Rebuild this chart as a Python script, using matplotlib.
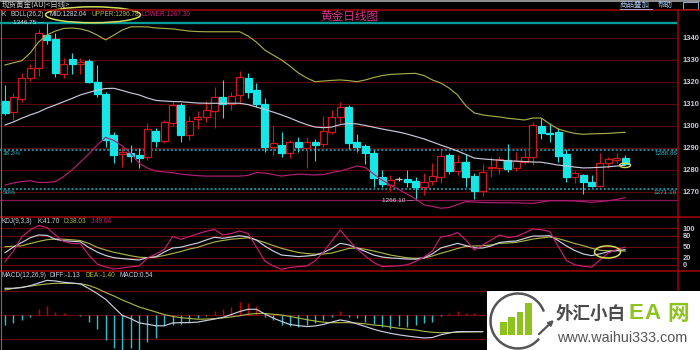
import matplotlib
matplotlib.use('Agg')
import matplotlib.pyplot as plt
from matplotlib.patches import Rectangle, Ellipse, Arc, FancyArrowPatch

plt.rcParams['font.family'] = ['Noto Sans CJK SC', 'DejaVu Sans']

# ---------------- data ----------------
opens = [1311.2, 1306.4, 1312.0, 1321.5, 1326.4, 1341.2, 1339.3, 1323.4, 1330.2, 1327.9,
         1329.4, 1320.0, 1314.3, 1295.8, 1287.0, 1287.7, 1286.7, 1285.6, 1297.7, 1293.2,
         1301.1, 1309.3, 1295.8, 1302.9, 1303.8, 1306.7, 1312.9, 1309.7, 1314.0, 1321.8,
         1316.2, 1309.7, 1290.2, 1291.2, 1287.5, 1292.5, 1289.7, 1292.5, 1291.5, 1297.3,
         1304.1, 1308.4, 1292.5, 1290.8, 1287.7, 1276.8, 1273.0, 1275.6, 1275.6, 1275.0,
         1272.3, 1275.0, 1276.8, 1286.7, 1279.5, 1283.4, 1277.1, 1270.5, 1280.6, 1280.9,
         1284.4, 1280.6, 1283.6, 1285.6, 1299.9, 1296.8, 1297.1, 1287.0, 1276.8, 1277.6,
         1274.5, 1272.7, 1283.2, 1284.4, 1285.2]
highs = [1318.5, 1314.7, 1324.1, 1328.0, 1344.0, 1346.75, 1342.0, 1330.6, 1332.9, 1330.6,
         1330.2, 1327.6, 1315.5, 1297.3, 1290.5, 1291.2, 1289.7, 1301.1, 1298.8, 1302.6,
         1311.2, 1310.2, 1304.4, 1306.8, 1311.2, 1317.5, 1320.8, 1315.5, 1325.0, 1323.8,
         1319.5, 1312.5, 1299.9, 1297.3, 1293.5, 1294.7, 1294.7, 1293.8, 1304.4, 1307.1,
         1310.9, 1309.4, 1296.1, 1291.7, 1289.0, 1279.9, 1277.6, 1276.5, 1279.9, 1276.5,
         1278.6, 1282.9, 1289.0, 1287.5, 1286.7, 1287.1, 1278.4, 1282.6, 1286.0, 1286.2,
         1291.7, 1288.2, 1289.7, 1301.8, 1303.4, 1301.1, 1298.8, 1289.3, 1279.4, 1278.0,
         1277.6, 1287.5, 1286.0, 1287.5, 1286.7]
lows = [1304.9, 1302.6, 1310.9, 1320.5, 1322.6, 1337.0, 1322.3, 1321.5, 1323.4, 1323.4,
        1319.3, 1313.2, 1290.5, 1282.9, 1281.4, 1283.6, 1280.9, 1284.4, 1290.2, 1292.0,
        1299.9, 1292.7, 1293.5, 1298.4, 1301.8, 1298.8, 1303.4, 1307.1, 1311.0, 1312.5,
        1308.6, 1288.2, 1286.7, 1285.6, 1285.2, 1288.2, 1280.6, 1284.1, 1290.5, 1296.1,
        1301.1, 1289.3, 1288.2, 1282.6, 1272.3, 1272.3, 1270.5, 1274.8, 1272.3, 1266.1,
        1268.5, 1273.0, 1273.8, 1277.9, 1277.6, 1272.3, 1266.5, 1268.2, 1276.8, 1277.9,
        1279.1, 1279.4, 1282.6, 1282.1, 1293.8, 1292.7, 1283.6, 1274.5, 1273.8, 1269.0,
        1272.0, 1272.0, 1280.6, 1283.2, 1282.6]
closes = [1305.9, 1312.9, 1321.5, 1326.4, 1342.0, 1339.0, 1323.8, 1328.0, 1328.0, 1329.1,
          1320.0, 1314.3, 1293.5, 1286.7, 1288.2, 1286.4, 1285.5, 1298.4, 1293.2, 1301.5,
          1309.3, 1295.8, 1302.1, 1303.8, 1307.1, 1312.9, 1309.7, 1313.5, 1322.3, 1315.5,
          1309.7, 1290.2, 1292.0, 1287.5, 1292.5, 1290.2, 1292.5, 1291.2, 1297.6, 1304.1,
          1308.4, 1292.3, 1290.2, 1287.7, 1276.1, 1273.5, 1275.3, 1275.6, 1274.5, 1272.3,
          1274.5, 1277.1, 1286.2, 1279.5, 1283.6, 1276.5, 1270.5, 1279.1, 1281.4, 1284.7,
          1280.3, 1284.1, 1285.6, 1300.3, 1296.8, 1296.2, 1286.4, 1276.8, 1278.4, 1274.5,
          1272.7, 1283.2, 1284.9, 1285.2, 1282.6]
boll_upper = [1327.6, 1328.6, 1329.5, 1333.0, 1338.0, 1341.2, 1343.0, 1344.2, 1344.4, 1344.0,
              1343.0, 1341.2, 1339.0, 1341.2, 1343.5, 1344.9, 1345.0, 1344.9, 1344.4, 1344.2,
              1344.0, 1343.5, 1343.0, 1342.8, 1342.7, 1342.7, 1342.7, 1342.7, 1342.7, 1340.8,
              1338.0, 1334.4, 1332.1, 1329.9, 1327.1, 1324.0, 1321.7, 1320.0, 1320.3, 1320.6,
              1320.8, 1320.5, 1320.0, 1320.8, 1321.9, 1322.8, 1323.3, 1323.5, 1323.7, 1323.8,
              1322.8, 1320.8, 1319.4, 1317.1, 1314.0, 1309.0, 1305.8, 1304.9, 1304.4, 1304.0,
              1303.4, 1303.0, 1302.6, 1303.5, 1303.5, 1300.8, 1298.5, 1297.4, 1296.5, 1296.1,
              1296.3, 1296.4, 1296.5, 1296.8, 1297.0]
boll_mid = [1300.3, 1301.7, 1303.4, 1304.9, 1306.2, 1308.0, 1309.4, 1310.9, 1312.4, 1314.0,
            1315.1, 1316.2, 1316.9, 1317.0, 1316.0, 1314.9, 1314.0, 1312.6, 1311.5, 1311.2,
            1311.0, 1310.9, 1310.6, 1310.3, 1310.2, 1310.2, 1310.2, 1310.2, 1310.2, 1309.6,
            1308.5, 1307.4, 1306.2, 1304.9, 1303.5, 1301.9, 1300.5, 1299.4, 1299.1, 1299.4,
            1300.5, 1301.0, 1300.8, 1300.1, 1299.3, 1298.5, 1297.8, 1297.1, 1296.2, 1295.1,
            1294.0, 1292.6, 1291.2, 1289.9, 1288.5, 1286.9, 1285.3, 1284.9, 1284.6, 1284.3,
            1284.0, 1283.9, 1283.7, 1283.5, 1283.4, 1282.8, 1282.1, 1281.7, 1281.2, 1280.8,
            1280.9, 1281.1, 1281.3, 1281.7, 1282.0]
boll_lower = [1273.0, 1274.0, 1274.6, 1275.0, 1274.2, 1274.2, 1274.6, 1276.9, 1279.9, 1283.5,
              1287.1, 1291.2, 1294.7, 1293.3, 1290.8, 1287.4, 1283.0, 1280.7, 1279.4, 1279.0,
              1278.6, 1278.0, 1277.6, 1277.3, 1277.1, 1277.1, 1277.1, 1277.1, 1277.1, 1277.4,
              1278.7, 1278.5, 1277.8, 1277.1, 1277.6, 1278.0, 1277.8, 1277.6, 1277.8, 1278.7,
              1279.4, 1280.5, 1281.7, 1281.0, 1278.0, 1275.3, 1273.0, 1271.0, 1268.9, 1266.7,
              1264.0, 1263.3, 1262.5, 1262.8, 1264.2, 1265.5, 1265.3, 1265.1, 1265.0, 1265.0,
              1265.0, 1264.9, 1264.8, 1264.7, 1265.3, 1265.9, 1265.9, 1265.9, 1265.8, 1265.5,
              1265.2, 1265.5, 1265.9, 1266.5, 1267.3]
kdj_k = [33.5, 49.0, 61.3, 74.1, 81.7, 80.9, 70.0, 66.2, 64.6, 63.2,
         47.7, 35.4, 25.9, 19.9, 17.4, 15.5, 13.6, 20.2, 22.3, 35.4,
         46.3, 48.5, 54.5, 59.9, 68.1, 75.5, 72.8, 76.3, 79.8, 76.3,
         68.1, 51.8, 38.1, 27.2, 25.1, 22.9, 24.5, 26.7, 34.1, 45.0,
         59.1, 55.0, 46.3, 36.8, 27.2, 21.8, 19.1, 17.7, 16.3, 15.8,
         19.1, 30.5, 46.3, 52.6, 58.9, 53.1, 46.9, 46.3, 51.8, 61.3,
         64.0, 65.4, 72.2, 78.7, 79.0, 79.8, 66.8, 51.8, 39.5, 30.0,
         25.6, 30.5, 36.2, 39.5, 41.7]
kdj_d = [49.9, 51.0, 52.3, 58.6, 64.0, 68.9, 70.8, 70.3, 68.7, 66.5,
         58.6, 48.2, 40.9, 34.6, 30.0, 25.1, 21.3, 20.2, 21.8, 25.9,
         31.3, 36.8, 43.6, 48.2, 55.9, 62.7, 66.8, 70.3, 72.2, 74.1,
         68.1, 61.3, 53.1, 45.5, 39.5, 34.1, 31.3, 29.4, 30.0, 32.7,
         38.7, 45.0, 46.3, 42.8, 38.1, 32.7, 27.2, 23.2, 19.6, 18.3,
         19.1, 24.5, 31.9, 38.1, 45.0, 50.4, 51.8, 52.6, 54.5, 58.9,
         59.9, 61.6, 65.9, 70.8, 73.6, 76.3, 72.2, 65.4, 58.6, 52.6,
         45.8, 40.1, 38.7, 38.7, 38.0]
kdj_j = [9.0, 38.1, 76.3, 95.4, 107.6, 102.2, 81.7, 64.0, 58.6, 57.8,
         27.2, 2.7, -5.4, -10.9, -8.2, -4.9, -2.7, 19.1, 30.0, 42.2,
         77.7, 70.0, 77.7, 85.0, 91.8, 96.7, 81.7, 85.8, 92.6, 85.8,
         49.0, 10.9, -2.7, -11.7, -6.8, -4.4, -2.7, 10.9, 35.4, 65.4,
         95.4, 68.1, 43.6, 24.5, 6.8, -4.1, -3.3, -2.2, 0.5, 9.5,
         21.8, 38.1, 76.3, 79.8, 88.6, 68.1, 40.9, 54.5, 68.1, 81.7,
         74.9, 77.7, 87.2, 98.1, 96.2, 91.3, 51.8, 12.3, 0.5, -3.5,
         -6.0, 13.6, 32.7, 42.2, 49.0]
# MACD: only the part not hidden by the watermark
macd_diff = [1.78, 1.78, 1.83, 1.95, 2.13, 2.31, 2.27, 2.18, 2.13, 2.07,
             1.77, 1.43, 1.05, 0.51, -0.03, -0.24, -0.52, -0.62, -0.72, -0.72,
             -0.53, -0.51, -0.51, -0.47, -0.37, -0.27, -0.16, 0.03, 0.23, 0.38,
             0.38, 0.07, -0.20, -0.43, -0.63, -0.71, -0.77, -0.73, -0.63, -0.47,
             -0.33, -0.43, -0.59, -0.77, -0.95, -1.10, -1.22, -1.32, -1.40, -1.47,
             -1.53, -1.50, -1.32, -1.20, -1.11, -1.11, -1.11, -1.11]
macd_dea = [1.67, 1.77, 1.85, 1.93, 2.00, 2.07, 2.11, 2.11, 2.11, 2.09,
            1.97, 1.77, 1.50, 1.27, 1.00, 0.77, 0.53, 0.37, 0.20, 0.03,
            -0.09, -0.18, -0.23, -0.28, -0.27, -0.24, -0.19, -0.13, -0.05, 0.05,
            0.10, 0.10, 0.05, 0.00, -0.10, -0.20, -0.31, -0.40, -0.48, -0.51,
            -0.51, -0.51, -0.54, -0.59, -0.67, -0.71, -0.80, -0.89, -0.95, -1.00,
            -1.09, -1.15, -1.18, -1.17, -1.15, -1.13, -1.12, -1.11]
macd_hist = [-0.67, -0.55, -0.33, -0.11, 0.38, 0.60, 0.22, 0.11, 0.02, -0.05,
             -0.45, -0.95, -1.67, -2.23, -2.33, -2.22, -2.33, -1.78, -1.55, -0.67,
             -0.67, -0.60, -0.45, -0.22, -0.05, 0.27, 0.40, 0.55, 0.85, 0.78,
             0.60, -0.10, -0.33, -0.67, -0.73, -0.78, -0.67, -0.55, -0.33, -0.10,
             0.27, -0.15, -0.22, -0.45, -0.60, -0.78, -0.95, -0.73, -0.78, -0.67,
             -0.55, -0.45, -0.05, 0.15, 0.29, 0.15, 0.11, 0.10]
price_ticks = [1270, 1280, 1290, 1300, 1310, 1320, 1330, 1340]
kdj_ticks = [0, 20, 50, 80, 100]
macd_grid = [1.6, 0.0, -1.6]
fib_levels = [1288.86, 1271.16]
fib_names = ['38.2%', '50%']
high_price = 1346.75
high_idx = 5
low_price = 1266.10
low_idx = 49

# ---------------- styling ----------------
BG = 'black'
RED = '#d01818'
CYAN = '#18e6e6'
DOJI = '#c8c8c8'
C_UP = '#a8aa48'
C_MID = '#c8c8dc'
C_LOW = '#b41e74'
C_K = '#c8d0e0'
C_D = '#aab04a'
C_J = '#c81e78'
GRID = '#5a0808'
SEP = '#a80000'
AXTXT = '#c8cad8'
LATIN = ['Liberation Sans', 'DejaVu Sans']

W, H = 700, 350
fig = plt.figure(figsize=(7, 3.5), dpi=100, facecolor=BG)

X0, DX = 5.0, 8.38      # pixel x of the first candle, candle spacing
XR = 678                # right border of the chart area
xlim = ((0 - X0) / DX, (XR - X0) / DX)


def panel(y0, y1, ylim):
    ax = fig.add_axes([0, 1 - y1 / H, XR / W, (y1 - y0) / H])
    ax.set_facecolor(BG)
    for s in ax.spines.values():
        s.set_visible(False)
    ax.set_xlim(*xlim)
    ax.set_ylim(*ylim)
    ax.set_xticks([])
    ax.yaxis.tick_right()
    ax.tick_params(axis='y', length=0, pad=3.2, labelsize=5.4, labelcolor=AXTXT)
    return ax


def style_ticklabels(ax):
    for t in ax.get_yticklabels():
        t.set_fontweight('bold')
        t.set_family(LATIN)


n = len(closes)
idx = list(range(n))

# ---------------- main (candles + BOLL) ----------------
ax_m = panel(10, 216.7, (1258.64, 1352.59))
ax_m.set_yticks(price_ticks)
style_ticklabels(ax_m)
for p in price_ticks:
    ax_m.axhline(p, color=GRID, lw=0.8, zorder=1)

ax_m.axhline(high_price, color='#009c9c', lw=1.7, zorder=2)
ax_m.axhline(low_price, color='#8a1452', lw=0.9, zorder=2)
for lv, nm in zip(fib_levels, fib_names):
    ax_m.axhline(lv, color='#22b4c4', lw=1.1, ls=(0, (1.3, 1.3)), zorder=2)
    ax_m.text(xlim[0] + 0.3, lv - 0.4, nm, color='#28b8c8', fontsize=4.6,
              family=LATIN, va='top', ha='left', zorder=6)
    ax_m.text(xlim[1] - 0.1, lv - 0.2, f'{lv:.2f}', color='#28b8c8', fontsize=4.6,
              family=LATIN, va='top', ha='right', zorder=6)

BW = 0.84
for i in idx:
    o, h, l, c = opens[i], highs[i], lows[i], closes[i]
    if c > o:
        col, fc = RED, BG
    elif c < o:
        col, fc = CYAN, CYAN
    else:
        col, fc = DOJI, DOJI
    ax_m.vlines(i, l, h, color=col, lw=0.8, zorder=3)
    ax_m.add_patch(Rectangle((i - BW / 2, min(o, c)), BW, abs(c - o),
                             facecolor=fc, edgecolor=col, lw=0.9, zorder=4))

ax_m.plot(idx, boll_upper, color=C_UP, lw=0.85, zorder=5)
ax_m.plot(idx, boll_mid, color=C_MID, lw=0.85, zorder=5)
ax_m.plot(idx, boll_lower, color=C_LOW, lw=0.85, zorder=5)

ax_m.text(high_idx - 0.25, high_price, '1346.75 —', color='#d8d8e0', fontsize=4.6,
          family=LATIN, ha='right', va='center', zorder=6)
ax_m.text(low_idx - 0.2, low_price, '1266.10 —', color='#d8d8e0', fontsize=4.6,
          family=LATIN, ha='right', va='center', zorder=6)
ax_m.add_patch(Ellipse((n - 1, boll_mid[-1]), 1.3, 2.0, fill=False,
                       edgecolor='#d2dc5a', lw=1.0, zorder=7))

# ---------------- KDJ ----------------
ax_k = panel(216.7, 271, (-16.35, 131.6))
ax_k.set_yticks(kdj_ticks)
style_ticklabels(ax_k)
for v in kdj_ticks:
    ax_k.axhline(v, color='#6a0a0a', lw=0.8, zorder=1)
ax_k.plot(idx, kdj_d, color=C_D, lw=0.85, zorder=3)
ax_k.plot(idx, kdj_k, color=C_K, lw=0.85, zorder=4)
ax_k.plot(idx, kdj_j, color=C_J, lw=0.85, zorder=5)
ax_k.add_patch(Ellipse((71.9, 35.5), 3.1, 33.0, fill=False,
                       edgecolor='#d2dc5a', lw=1.1, zorder=7))

# ---------------- MACD ----------------
ax_d = panel(271, 350, (-2.333, 2.933))
ax_d.set_yticks([])
for v in macd_grid:
    ax_d.axhline(v, color='#6a0a0a', lw=0.8, zorder=1)
m_idx = list(range(len(macd_hist)))
for i, v in zip(m_idx, macd_hist):
    ax_d.vlines(i, 0, v, color=('#c80000' if v > 0 else '#20c4d4'), lw=1.0, zorder=3)
ax_d.plot(m_idx, macd_dea, color=C_D, lw=0.85, zorder=4)
ax_d.plot(m_idx, macd_diff, color=C_K, lw=0.85, zorder=5)

# ---------------- overlay: frame, header texts, watermark ----------------
ax_o = fig.add_axes([0, 0, 1, 1], zorder=20)
ax_o.set_xlim(0, W)
ax_o.set_ylim(H, 0)
ax_o.axis('off')
ax_o.patch.set_alpha(0)

ax_o.plot([0, W], [0.6, 0.6], color='#a8a8a8', lw=1.2)
for yy in (10, 216.7, 271):
    ax_o.plot([0, W], [yy, yy], color=SEP, lw=1.1)
ax_o.plot([XR, XR], [10, H], color=SEP, lw=1.1)
ax_o.plot([0.6, 0.6], [10, H], color='#707070', lw=0.8)

ax_o.text(2, 5.2, '现货黄金(AU)<日线>', color='#d0d0d0', fontsize=5.4, va='center', ha='left')
ax_o.text(620, 5.2, '商品叠加', color='#a8c8f0', fontsize=5.4, va='center', ha='left')
ax_o.plot([620, 652], [8.8, 8.8], color='#a8c8f0', lw=0.6)
ax_o.text(658, 5.2, '帮助', color='#a8c8f0', fontsize=5.4, va='center', ha='left')
ax_o.add_patch(Rectangle((683, 2), 15, 6.5, fill=False, edgecolor='#a8c8f0', lw=0.6))

hdr = dict(fontsize=4.7, va='center', ha='left', family=LATIN)
ax_o.text(2, 14.6, 'K', color='#d0d0d0', **hdr)
ax_o.text(10.5, 14.6, 'BOLL(26,2)', color='#d0d0d0', **hdr)
ax_o.text(49.5, 14.6, 'MID:1282.04', color='#d8d8e4', **hdr)
ax_o.text(91, 14.6, 'UPPER:1296.78', color='#b4b648', **hdr)
ax_o.text(141, 14.6, 'LOWER:1267.30', color='#d0207e', **hdr)
ax_o.add_patch(Ellipse((93, 14.8), 95, 16, fill=False, edgecolor='#d2dc5a', lw=1.1))
ax_o.text(349, 16, '黄金日线图', color='#e0308c', fontsize=8.4, va='center', ha='center')

ax_o.text(2, 221.2, 'KDJ(9,3,3)', color=C_K, **hdr)
ax_o.text(37, 221.2, 'K:41.70', color=C_K, **hdr)
ax_o.text(63.3, 221.2, 'D:38.03', color='#b4b648', **hdr)
ax_o.text(90.7, 221.2, 'J:49.04', color='#d0207e', **hdr)

ax_o.text(2, 275.8, 'MACD(12,26,9)', color=C_K, **hdr)
ax_o.text(50, 275.8, 'DIFF:-1.13', color=C_K, **hdr)
ax_o.text(86, 275.8, 'DEA:-1.40', color='#b4b648', **hdr)
ax_o.text(120, 275.8, 'MACD:0.54', color=C_K, **hdr)

# watermark
ax_o.add_patch(Rectangle((487, 291), W - 487, H - 291, facecolor='white', edgecolor='none', zorder=30))
ax_o.add_patch(Arc((518, 321), 55, 55, theta1=40, theta2=340, color='#555555', lw=1.8, zorder=31))
for bx, by in [(500, 322), (508, 317), (516.5, 312), (525, 303)]:
    ax_o.add_patch(Rectangle((bx, by), 6.5, 335 - by, facecolor='#8dc21f', edgecolor='none', zorder=31))
ax_o.add_patch(FancyArrowPatch((537, 336), (556, 318), arrowstyle='-|>', mutation_scale=7,
                               color='#555555', lw=1.6, zorder=31))
ax_o.text(556, 313.5, '外汇小白', color='#4a4a4a', fontsize=12.6, fontweight='bold',
          va='center', ha='left', zorder=32)
ax_o.text(628.5, 313.5, 'E', color='#8dc21f', fontsize=16, fontweight='bold',
          va='center', ha='left', family=LATIN, zorder=32)
ax_o.text(644, 313.5, 'A', color='#8dc21f', fontsize=16, fontweight='bold',
          va='center', ha='left', family=LATIN, zorder=32)
ax_o.text(667, 313.5, '网', color='#8dc21f', fontsize=15.5, fontweight='bold',
          va='center', ha='left', zorder=32)
ax_o.text(557, 338.5, 'www.waihui333.com', color='#555555', fontsize=10.4,
          va='center', ha='left', family=LATIN, zorder=32)

fig.savefig('out.png', dpi=100, facecolor=BG)
